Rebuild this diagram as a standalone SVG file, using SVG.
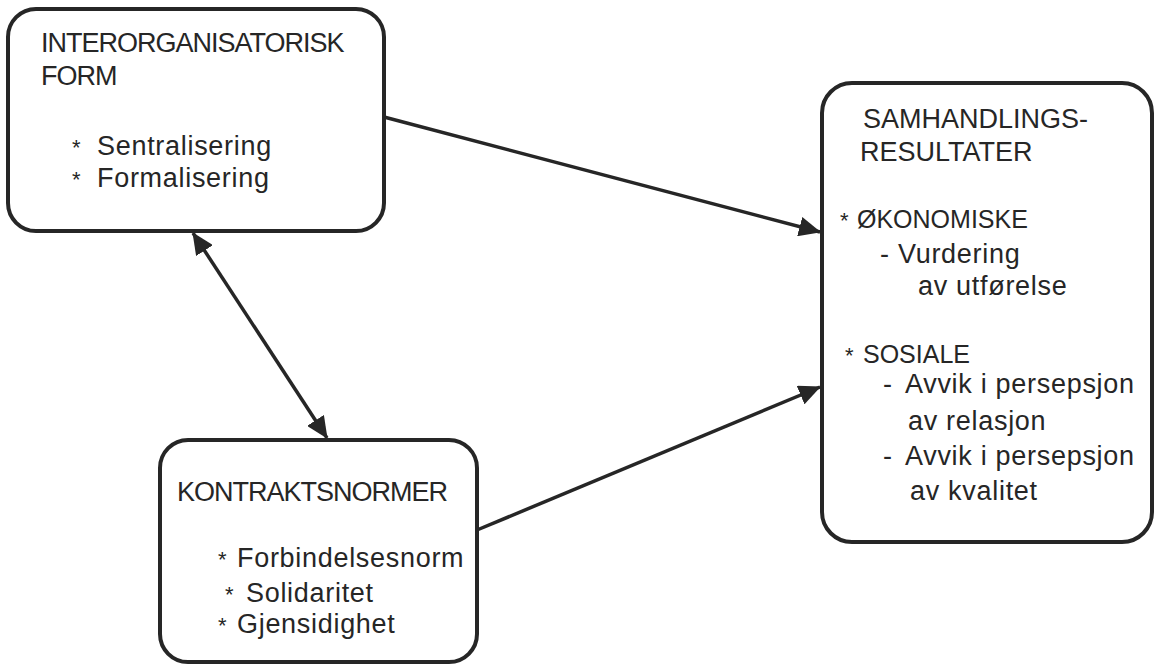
<svg xmlns="http://www.w3.org/2000/svg" width="1162" height="666" viewBox="0 0 1162 666">
  <defs>
    <marker id="head" markerUnits="userSpaceOnUse" markerWidth="22" markerHeight="20" refX="21" refY="10" orient="auto-start-reverse">
      <path d="M0,0 L22,10 L0,20 Z" fill="#262626"/>
    </marker>
    <style>
      .box { fill: #ffffff; stroke: #262626; stroke-width: 4; }
      .link { fill: none; stroke: #262626; stroke-width: 3.5; }
      text { font-family: "Liberation Sans", Arial, Helvetica, sans-serif; fill: #262626; }
      .hd { font-size: 27px; letter-spacing: -1px; }
      .hd3 { font-size: 27px; }
      .cat { font-size: 25px; }
      .it { font-size: 27px; letter-spacing: 0.7px; }
      .ast { font-size: 22px; }
    </style>
  </defs>
  <rect width="1162" height="666" fill="#ffffff"/>

  <!-- connectors -->
  <g id="connectors">
    <line class="link" x1="384" y1="117" x2="820" y2="232" marker-end="url(#head)"/>
    <line class="link" x1="477" y1="530" x2="820" y2="387" marker-end="url(#head)"/>
    <line class="link" x1="193" y1="233" x2="327" y2="438" marker-start="url(#head)" marker-end="url(#head)"/>
  </g>

  <!-- interorganisational form -->
  <g id="node-form">
    <rect class="box" x="8" y="9" width="376" height="222" rx="28"/>
    <text class="hd" x="41" y="52">INTERORGANISATORISK</text>
    <text class="hd" x="41" y="85">FORM</text>
    <text class="ast" x="72" y="155">*</text>
    <text class="it" x="97" y="155">Sentralisering</text>
    <text class="ast" x="72" y="187">*</text>
    <text class="it" x="97" y="187">Formalisering</text>
  </g>

  <!-- contract norms -->
  <g id="node-norms">
    <rect class="box" x="160" y="440" width="317" height="222" rx="28"/>
    <text class="hd" x="177" y="501">KONTRAKTSNORMER</text>
    <text class="ast" x="218" y="567">*</text>
    <text class="it" x="237" y="567">Forbindelsesnorm</text>
    <text class="ast" x="225" y="602">*</text>
    <text class="it" x="246" y="602">Solidaritet</text>
    <text class="ast" x="218" y="633">*</text>
    <text class="it" x="237" y="633">Gjensidighet</text>
  </g>

  <!-- interaction outcomes -->
  <g id="node-results">
    <rect class="box" x="822" y="83" width="330" height="459" rx="30"/>
    <text class="hd3" x="863" y="128">SAMHANDLINGS-</text>
    <text class="hd3" x="860" y="161">RESULTATER</text>
    <text class="ast" x="840" y="228">*</text>
    <text class="cat" x="857" y="228">ØKONOMISKE</text>
    <text class="it" x="880" y="263">-</text>
    <text class="it" x="898" y="263">Vurdering</text>
    <text class="it" x="918" y="295">av utførelse</text>
    <text class="ast" x="845" y="363">*</text>
    <text class="cat" x="863" y="363">SOSIALE</text>
    <text class="it" x="883" y="393">-</text>
    <text class="it" x="905" y="393">Avvik i persepsjon</text>
    <text class="it" x="908" y="430">av relasjon</text>
    <text class="it" x="883" y="465">-</text>
    <text class="it" x="905" y="465">Avvik i persepsjon</text>
    <text class="it" x="910" y="500">av kvalitet</text>
  </g>
</svg>
